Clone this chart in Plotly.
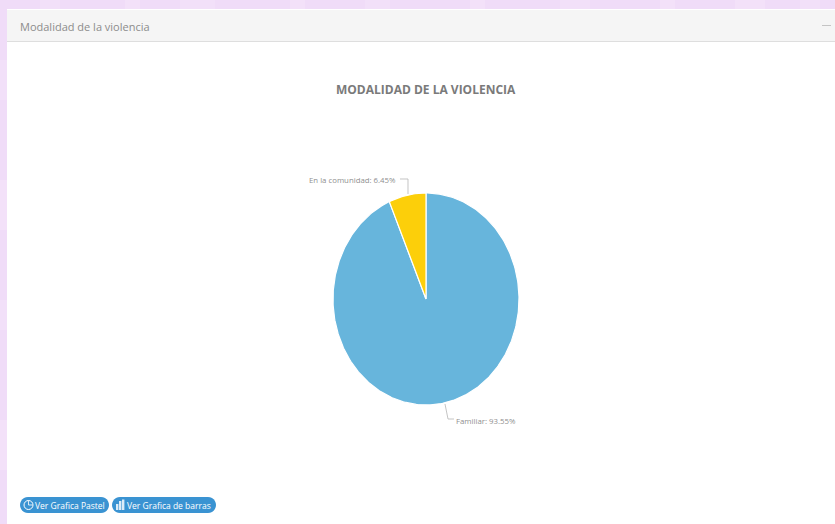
import numpy as np
import plotly.graph_objects as go

W, H = 835, 524

categories = ["Familiar", "En la comunidad"]
values = [93.55, 6.45]
slice_colors = ["#67b5dc", "#fccf0a"]
chart_title = "MODALIDAD DE LA VIOLENCIA"
panel_title = "Modalidad de la violencia"
button_labels = ["Ver Grafica Pastel", "Ver Grafica de barras"]


def px(x):
    return x / W


def py(y):
    return 1 - y / H


def rect(x0, y0, x1, y1, fill):
    return dict(type="rect", xref="paper", yref="paper", layer="below",
                x0=px(x0), x1=px(x1), y0=py(y0), y1=py(y1), fillcolor=fill,
                line=dict(color=fill, width=0))


def polyline(points, color="#b5b5b5", width=0.8):
    path = "M " + " L ".join(f"{px(x):.5f},{py(y):.5f}" for x, y in points)
    return dict(type="path", xref="paper", yref="paper", layer="below", path=path,
                line=dict(color=color, width=width))


def pill(x0, y0, x1, y1, fill):
    r = (y1 - y0) / 2
    pts = []
    for a in np.linspace(90, 270, 13):
        pts.append((x0 + r + r * np.cos(np.radians(a)), y0 + r - r * np.sin(np.radians(a))))
    for a in np.linspace(-90, 90, 13):
        pts.append((x1 - r + r * np.cos(np.radians(a)), y0 + r - r * np.sin(np.radians(a))))
    path = "M " + " L ".join(f"{px(x):.5f},{py(y):.5f}" for x, y in pts) + " Z"
    return dict(type="path", xref="paper", yref="paper", layer="below", path=path,
                fillcolor=fill, line=dict(color=fill, width=0))


fig = go.Figure()

# Slices run clockwise from twelve o'clock; the axes stretch the pie vertically.
start = 0.0
total = sum(values)
for name, value, color in zip(categories, values, slice_colors):
    end = start + value / total * 2 * np.pi
    theta = np.linspace(start, end, max(int(value * 4), 12))
    fig.add_trace(go.Scatter(
        x=np.r_[0, np.sin(theta), 0], y=np.r_[0, np.cos(theta), 0],
        mode="lines", fill="toself", fillcolor=color,
        line=dict(color="#ffffff", width=1.2),
        name=name, text=f"{name}: {value}%", hoverinfo="text", hoveron="fills",
        showlegend=False,
    ))
    start = end

shapes = []
# Faint streaks in the lilac page background
for x0, x1, op in [(40, 60, .15), (125, 140, .2), (180, 215, .15), (290, 305, .2),
                   (365, 390, .15), (470, 485, .2), (560, 590, .15), (660, 675, .2),
                   (735, 765, .2), (800, 820, .15)]:
    shapes.append(rect(x0, 0, x1, 9, f"rgba(255,245,255,{op})"))
for y0, y1, op in [(60, 100, .15), (180, 230, .2), (300, 330, .15), (420, 470, .2)]:
    shapes.append(rect(0, y0, 7, y1, f"rgba(255,245,255,{op})"))

shapes += [
    rect(7, 9, W, H, "#ffffff"),
    rect(7, 10, W, 41, "#f5f5f5"),
    rect(7, 41, W, 42, "#dedede"),
    rect(822, 25, 831, 26, "#c4c4c4"),
    polyline([(400, 179), (408, 179), (408, 194)]),
    polyline([(445, 404), (448, 419), (454, 419)]),
    pill(20, 497, 109, 513, "#3a93d2"),
    pill(112, 497, 216, 513, "#3a93d2"),
    # Pie icon on the first button
    dict(type="circle", xref="paper", yref="paper", layer="below",
         x0=px(24), x1=px(33), y0=py(509.5), y1=py(500.5),
         line=dict(color="#ffffff", width=1)),
    polyline([(28.5, 500.5), (28.5, 505), (32.5, 505)], "#ffffff", 0.8),
]
# Bar icon on the second button
for x0, top in [(116, 504), (119, 501), (122, 499.5)]:
    shapes.append(rect(x0, top, x0 + 2.4, 510, "#dcecf8"))


def label(text, x, y, anchor="left", size=8, color="#8f8f8f", bold=False):
    return dict(text=f"<b>{text}</b>" if bold else text, x=px(x), y=py(y),
                xref="paper", yref="paper", xanchor=anchor, yanchor="middle",
                showarrow=False, font=dict(family="Open Sans", size=size, color=color))


annotations = [
    label(panel_title, 18, 26, size=11, color="#8c8c8c"),
    label(chart_title, 426.5, 89, anchor="center", size=12, color="#7a7a7a", bold=True),
    label(f"{categories[1]}: {values[1]}%", 398, 179.5, anchor="right", size=7.8),
    label(f"{categories[0]}: {values[0]}%", 454, 421, size=7.8),
    label(button_labels[0], 33, 505, size=8.5, color="#ffffff"),
    label(button_labels[1], 125, 505, size=8.5, color="#ffffff"),
]

fig.update_layout(
    width=W, height=H,
    margin=dict(l=0, r=0, t=0, b=0),
    paper_bgcolor="#f0dcf8",
    plot_bgcolor="rgba(0,0,0,0)",
    hovermode="closest",
    shapes=shapes,
    annotations=annotations,
    xaxis=dict(domain=[px(333), px(519)], range=[-1, 1], visible=False, fixedrange=True),
    yaxis=dict(domain=[py(405), py(193)], range=[-1, 1], visible=False, fixedrange=True),
)

fig.write_html("out.html", config={"displayModeBar": False})
